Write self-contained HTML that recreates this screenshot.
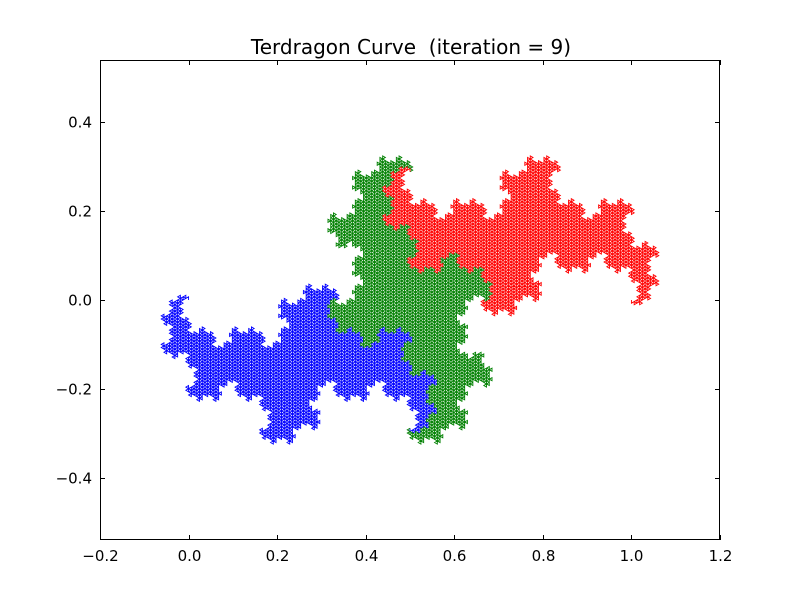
<!DOCTYPE html>
<html><head><meta charset="utf-8"><style>
body{margin:0;background:#fff;}
svg text{font-family:"DejaVu Sans","Liberation Sans",sans-serif;}
</style></head><body>
<svg id="chart" width="800" height="600" xmlns="http://www.w3.org/2000/svg">
<rect width="800" height="600" fill="#fff"/>
<text x="411" y="54" font-size="20" text-anchor="middle">Terdragon Curve &#160;(iteration = 9)</text>
<g id="plot"></g>
<rect x="100.5" y="60.5" width="619" height="479" fill="none" stroke="#000" stroke-width="1"/>
<g id="ticks"></g>
</svg>
<script>
const iteration = 9;
const startPoint = [0, 0];
const endPoint = [1, 0];
const seriesColors = ["blue", "green", "red"];
const xTicks = [-0.2, 0.0, 0.2, 0.4, 0.6, 0.8, 1.0, 1.2];
const yTicks = [-0.4, -0.2, 0.0, 0.2, 0.4];
const xDomain = [-0.2, 1.2];
const yDomain = [-0.54, 0.54];

const L = 100, R = 720, T = 60, B = 540;
const sx = v => L + (v - xDomain[0]) / (xDomain[1] - xDomain[0]) * (R - L);
const sy = v => B - (v - yDomain[0]) / (yDomain[1] - yDomain[0]) * (B - T);
const NS = "http://www.w3.org/2000/svg";

const pts = [startPoint.slice()];
const k = 1 / Math.sqrt(3), c = Math.cos(-Math.PI / 6), s = Math.sin(-Math.PI / 6);
const c2 = Math.cos(2 * Math.PI / 3), s2 = Math.sin(2 * Math.PI / 3);
function ter(ax, ay, bx, by, n) {
  if (n === 0) { pts.push([bx, by]); return; }
  const dx = bx - ax, dy = by - ay;
  const ux = k * (dx * c - dy * s), uy = k * (dx * s + dy * c);
  const p1x = ax + ux, p1y = ay + uy;
  const p2x = p1x + (ux * c2 - uy * s2), p2y = p1y + (ux * s2 + uy * c2);
  ter(ax, ay, p1x, p1y, n - 1);
  ter(p1x, p1y, p2x, p2y, n - 1);
  ter(p2x, p2y, bx, by, n - 1);
}
ter(startPoint[0], startPoint[1], endPoint[0], endPoint[1], iteration);

const plot = document.getElementById('plot');
const seg = (pts.length - 1) / 3;
for (let i = 0; i < 3; i++) {
  let d = "";
  for (let j = i * seg; j <= (i + 1) * seg; j++) {
    d += (j === i * seg ? "M" : "L") + sx(pts[j][0]).toFixed(2) + " " + sy(pts[j][1]).toFixed(2);
  }
  const p = document.createElementNS(NS, 'path');
  p.setAttribute('d', d);
  p.setAttribute('fill', 'none');
  p.setAttribute('stroke', seriesColors[i]);
  p.setAttribute('stroke-width', '0.9');
  
  
  plot.appendChild(p);
}

const tg = document.getElementById('ticks');
function line(x1, y1, x2, y2) {
  const l = document.createElementNS(NS, 'line');
  l.setAttribute('x1', x1); l.setAttribute('y1', y1); l.setAttribute('x2', x2); l.setAttribute('y2', y2);
  l.setAttribute('stroke', '#000');
  
  
  tg.appendChild(l);
}
function label(x, y, txt, anchor) {
  const t = document.createElementNS(NS, 'text');
  t.setAttribute('x', x); t.setAttribute('y', y);
  t.setAttribute('font-size', '15');
  t.setAttribute('text-anchor', anchor);
  t.textContent = txt;
  
  
  tg.appendChild(t);
}
const fmt = v => (v < 0 ? "\u2212" : "") + Math.abs(v).toFixed(1);
xTicks.forEach(v => {
  const x = Math.round(sx(v)) + 0.5;
  line(x, B, x, B - 5); line(x, T, x, T + 5);
  label(x, B + 21, fmt(v), 'middle');
});
yTicks.forEach(v => {
  const y = Math.round(sy(v)) + 0.5;
  line(L, y, L + 5, y); line(R, y, R - 5, y);
  label(L - 8, y + 5, fmt(v), 'end');
});
</script>
</body></html>
